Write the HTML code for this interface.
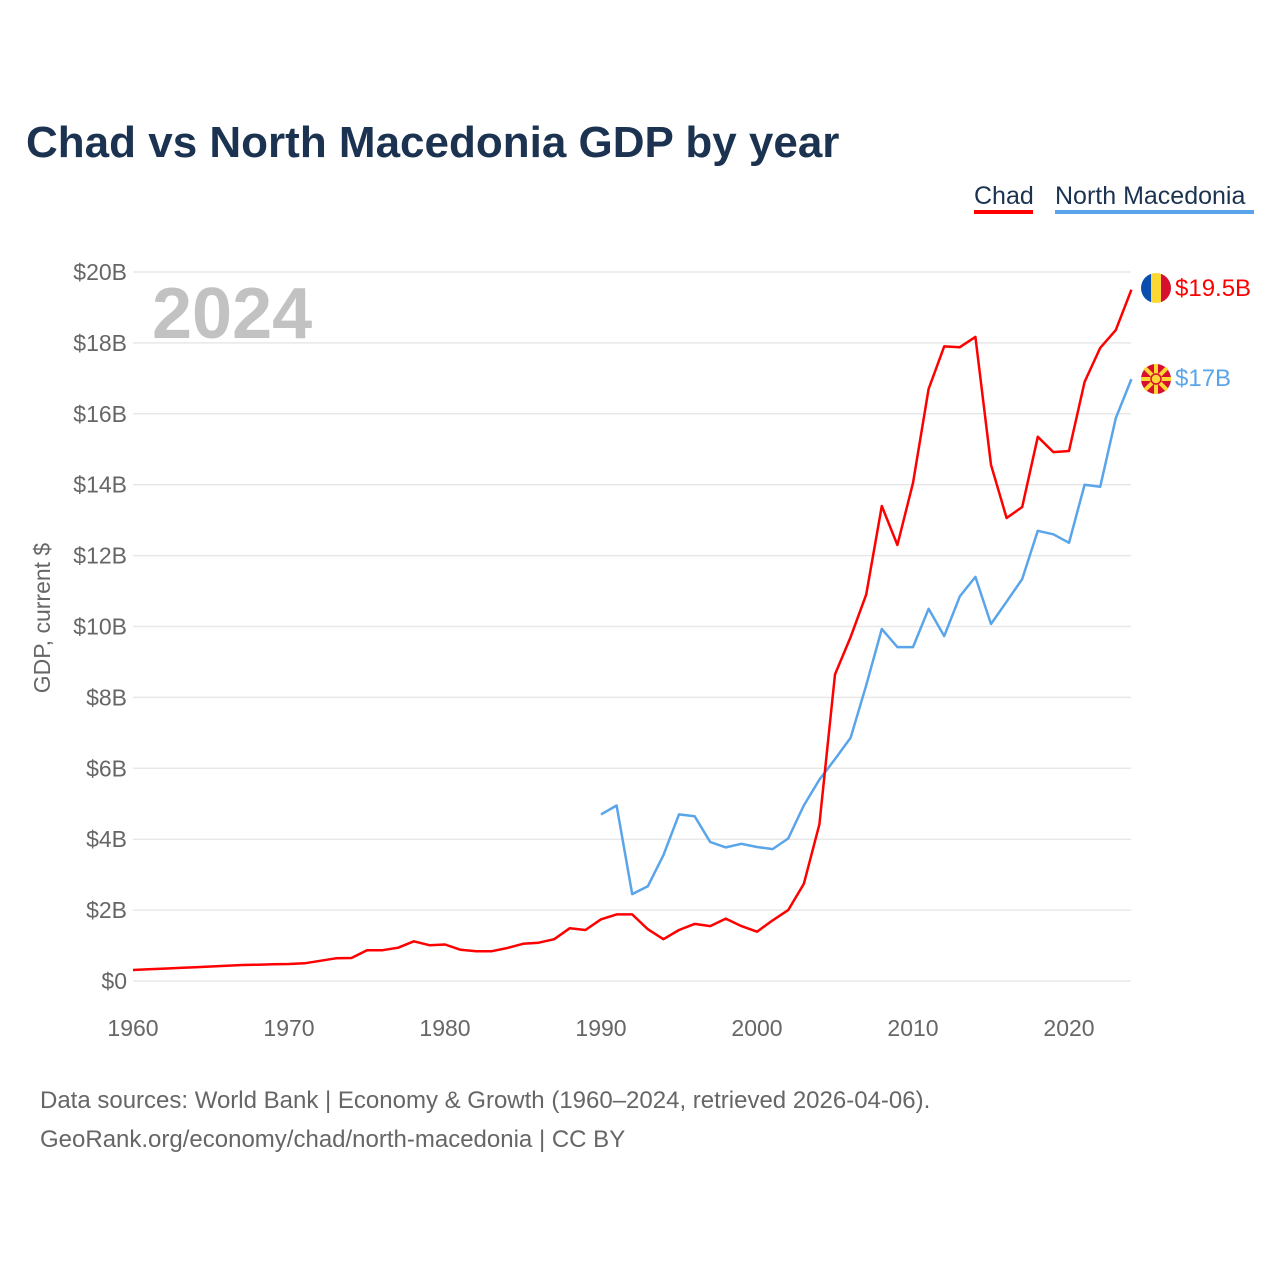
<!DOCTYPE html>
<html><head><meta charset="utf-8"><style>
body{margin:0;background:#fff;font-family:"Liberation Sans",sans-serif}
svg text{font-family:"Liberation Sans",sans-serif}
</style></head><body>
<svg width="1280" height="1280" viewBox="0 0 1280 1280">
<text x="26" y="157" font-size="44" font-weight="bold" fill="#1b3350">Chad vs North Macedonia GDP by year</text>
<g>
<text x="974" y="204" font-size="25" fill="#1b3350">Chad</text>
<rect x="974" y="210" width="59" height="4" fill="#ff0000"/>
<text x="1055" y="204" font-size="25" fill="#1b3350">North Macedonia</text>
<rect x="1055" y="210" width="199" height="4" fill="#5aa5ea"/>
</g>
<text x="152" y="338" font-size="72" font-weight="bold" fill="#c2c2c2">2024</text>
<text transform="translate(50,618) rotate(-90)" text-anchor="middle" font-size="23" fill="#666">GDP, current $</text>
<g id="grid"></g><g id="xt"></g>
<g id="lines"></g>
<g>
<clipPath id="c1"><circle cx="1156" cy="288" r="15"/></clipPath>
<g clip-path="url(#c1)"><rect x="1141" y="273" width="10" height="30" fill="#0a4fae"/><rect x="1151" y="273" width="10" height="30" fill="#fdd835"/><rect x="1161" y="273" width="10" height="30" fill="#d8102f"/></g>
<text x="1175" y="296" font-size="24" fill="#ff0000">$19.5B</text></g>
<g>
<circle cx="1156" cy="379" r="15" fill="#d8102f"/>
<g stroke="#fdd835" stroke-width="4"><line x1="1141" y1="379" x2="1171" y2="379"/><line x1="1156" y1="364" x2="1156" y2="394"/><line x1="1145" y1="368" x2="1167" y2="390"/><line x1="1167" y1="368" x2="1145" y2="390"/></g>
<circle cx="1156" cy="379" r="5" fill="#fdd835" stroke="#d8102f" stroke-width="1.5"/>
<text x="1175" y="386" font-size="24" fill="#5aa5ea">$17B</text></g>
<text x="40" y="1108" font-size="24" fill="#666">Data sources: World Bank | Economy &amp; Growth (1960–2024, retrieved 2026-04-06).</text>
<text x="40" y="1147" font-size="24" fill="#666">GeoRank.org/economy/chad/north-macedonia | CC BY</text>
</svg>
<script>
const yTicks=[0,2,4,6,8,10,12,14,16,18,20];
const yTickLabels=["$0","$2B","$4B","$6B","$8B","$10B","$12B","$14B","$16B","$18B","$20B"];
const xTicks=[1960,1970,1980,1990,2000,2010,2020];
const chadYears=[];for(let y=1960;y<=2024;y++)chadYears.push(y);
const chadValues=[0.31,0.33,0.35,0.37,0.39,0.41,0.43,0.45,0.46,0.47,0.48,0.5,0.57,0.64,0.65,0.87,0.87,0.94,1.12,1.01,1.03,0.88,0.84,0.84,0.93,1.05,1.08,1.18,1.49,1.44,1.74,1.88,1.88,1.46,1.18,1.44,1.61,1.55,1.76,1.55,1.39,1.71,2.0,2.74,4.42,8.65,9.7,10.9,13.4,12.3,14.05,16.7,17.9,17.88,18.17,14.56,13.06,13.37,15.35,14.92,14.95,16.9,17.86,18.36,19.5];
const nmkYears=[];for(let y=1990;y<=2024;y++)nmkYears.push(y);
const nmkValues=[4.7,4.95,2.45,2.67,3.55,4.7,4.65,3.92,3.77,3.87,3.78,3.72,4.02,4.95,5.68,6.26,6.86,8.34,9.93,9.42,9.42,10.5,9.73,10.85,11.4,10.07,10.7,11.34,12.7,12.6,12.36,14.0,13.94,15.88,16.98];
const NS="http://www.w3.org/2000/svg";
const X=y=>133+(y-1960)*15.6, Y=v=>981-v*35.45;
const grid=document.getElementById('grid');
yTicks.forEach((t,i)=>{
 const l=document.createElementNS(NS,'line');
 
 
 l.setAttribute('x1',133);l.setAttribute('x2',1131);l.setAttribute('y1',Y(t));l.setAttribute('y2',Y(t));
 l.setAttribute('stroke','#e8e8e8');l.setAttribute('stroke-width',1.5);grid.appendChild(l);
 const tx=document.createElementNS(NS,'text');
 
 
 tx.setAttribute('x',127);tx.setAttribute('y',Y(t)+8);tx.setAttribute('text-anchor','end');
 tx.setAttribute('font-size','23');tx.setAttribute('fill','#666');tx.textContent=yTickLabels[i];grid.appendChild(tx);
});
const xt=document.getElementById('xt');
xTicks.forEach(t=>{
 const tx=document.createElementNS(NS,'text');
 
 
 tx.setAttribute('x',X(t));tx.setAttribute('y',1036);tx.setAttribute('text-anchor','middle');
 tx.setAttribute('font-size','23');tx.setAttribute('fill','#666');tx.textContent=t;xt.appendChild(tx);
});
const lines=document.getElementById('lines');
function draw(xs,vs,c,name){
 const p=document.createElementNS(NS,'path');
 
 
 p.setAttribute('d',xs.map((x,i)=>(i?'L':'M')+X(x).toFixed(1)+','+Y(vs[i]).toFixed(1)).join(''));
 p.setAttribute('fill','none');p.setAttribute('stroke',c);p.setAttribute('stroke-width',2.5);p.setAttribute('stroke-linejoin','round');
 lines.appendChild(p);
}
draw(nmkYears,nmkValues,'#5aa5ea','north-macedonia-line');
draw(chadYears,chadValues,'#ff0000','chad-line');
</script>
</body></html>
